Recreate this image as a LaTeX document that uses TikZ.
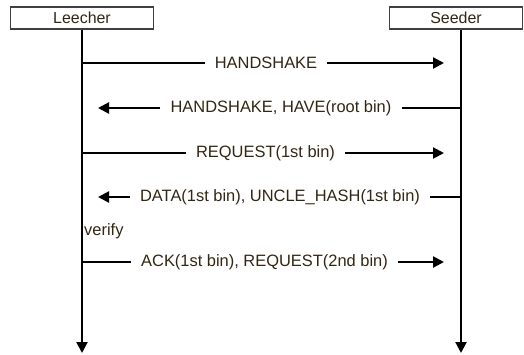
\documentclass[tikz,border=0pt]{standalone}
\usepackage{fontspec}
\setmainfont{Liberation Sans}
\usetikzlibrary{arrows.meta}
\definecolor{txt}{RGB}{50,38,20}
\definecolor{boxline}{RGB}{64,64,64}
\tikzset{
  actor/.style={draw=boxline, line width=1.8bp, fill=white, minimum height=22bp, inner sep=0pt, text=txt, font=\fontsize{16}{18}\selectfont},
  msg/.style={text=txt, inner xsep=10bp, inner ysep=2bp, font=\fontsize{16.5}{18}\selectfont},
  note/.style={text=txt, inner sep=0pt, anchor=west, font=\fontsize{16.5}{18}\selectfont},
  life/.style={line width=2.2bp, -{Triangle[length=11bp,width=11bp]}},
  wire/.style={line width=2.2bp},
  tip/.style={line width=2.2bp, -{Triangle[length=11bp,width=11bp]}}
}
\begin{document}
\begin{tikzpicture}[x=1bp,y=-1bp]
\useasboundingbox (0,0) rectangle (524,354);
% actors
\node[actor, minimum width=143bp] (L) at (82,18) {Leecher};
\node[actor, minimum width=133bp] (S) at (456,18) {Seeder};
\coordinate (Lend) at (82,353);
\coordinate (Send) at (461,353);
\draw[life] (L.south -| Lend) -- (Lend);
\draw[life] (L.south -| Send) -- (Send);
% lifeline coordinates
\coordinate (l1) at (82,63);  \coordinate (a1) at (444,63);
\coordinate (s2) at (461,108); \coordinate (a2) at (98,108);
\coordinate (l3) at (82,153); \coordinate (a3) at (444,153);
\coordinate (s4) at (461,197); \coordinate (a4) at (98,197);
\coordinate (l5) at (82,262); \coordinate (a5) at (444,262);
% messages
\node[msg] (m1) at (266,63) {HANDSHAKE};
\draw[wire] (l1) -- (m1.west);
\draw[tip] (m1.east) -- (a1);
\node[msg] (m2) at (281,108) {HANDSHAKE, HAVE(root bin)};
\draw[wire] (s2) -- (m2.east);
\draw[tip] (m2.west) -- (a2);
\node[msg] (m3) at (265.5,153) {REQUEST(1st bin)};
\draw[wire] (l3) -- (m3.west);
\draw[tip] (m3.east) -- (a3);
\node[msg] (m4) at (280,197) {DATA(1st bin), UNCLE\_HASH(1st bin)};
\draw[wire] (s4) -- (m4.east);
\draw[tip] (m4.west) -- (a4);
\node[note] (v) at (84,231) {verify};
\node[msg] (m5) at (264.5,262) {ACK(1st bin), REQUEST(2nd bin)};
\draw[wire] (l5) -- (m5.west);
\draw[tip] (m5.east) -- (a5);
\end{tikzpicture}
\end{document}
